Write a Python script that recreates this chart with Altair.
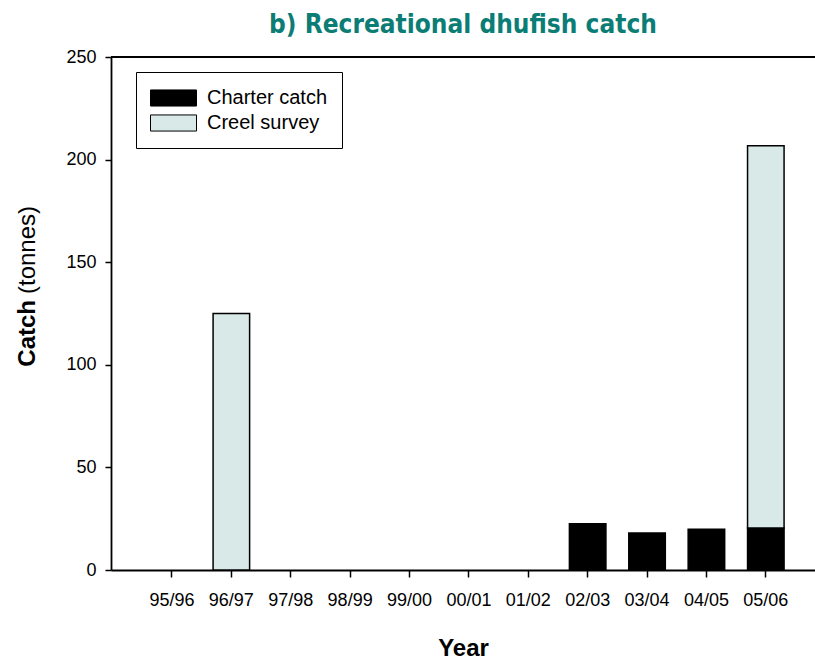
import altair as alt
import pandas as pd

# Financial years shown on the x axis
YEARS = ["95/96", "96/97", "97/98", "98/99", "99/00", "00/01",
         "01/02", "02/03", "03/04", "04/05", "05/06"]
# Catch in tonnes by source (None = no estimate for that year)
CHARTER = [None, None, None, None, None, None, None, 22.5, 18.0, 19.8, 20.5]
CREEL = [None, 125.0, None, None, None, None, None, None, None, None, 186.3]
SERIES = ["Charter catch", "Creel survey"]
COLORS = ["#000000", "#d8e9e8"]
Y_TICKS = [0, 50, 100, 150, 200, 250]

rows = []
for yr, ch, cr in zip(YEARS, CHARTER, CREEL):
    if ch is not None:
        rows.append({"year": yr, "source": SERIES[0], "catch": ch})
    if cr is not None:
        rows.append({"year": yr, "source": SERIES[1], "catch": cr})
df = pd.DataFrame(rows)

FONT = "Liberation Sans"
W, H = 704, 513

bars = alt.Chart(df).mark_bar(stroke="black", strokeWidth=1.5).encode(
    x=alt.X("year:N", sort=YEARS,
            scale=alt.Scale(domain=YEARS, paddingInner=0.385,
                            paddingOuter=0.62, align=0.58),
            axis=alt.Axis(title="Year", labelAngle=0, labelFontSize=18,
                          labelPadding=14, tickSize=7, tickWidth=1.5,
                          domainWidth=1.8, titleFontSize=24,
                          titleFontWeight="bold", titlePadding=27)),
    y=alt.Y("catch:Q", stack="zero",
            scale=alt.Scale(domain=[0, 250], nice=False),
            axis=alt.Axis(title=None, values=Y_TICKS, labelFontSize=18,
                          labelPadding=9, tickSize=6, tickWidth=1.5,
                          domainWidth=1.8, grid=False)),
    color=alt.Color("source:N",
                    scale=alt.Scale(domain=SERIES, range=COLORS),
                    legend=alt.Legend(
                        title=None, orient="none", legendX=25, legendY=15,
                        strokeColor="black", fillColor="white", padding=14,
                        symbolType="M-1,-0.7H3V0.7H-1Z", symbolSize=529,
                        symbolStrokeColor="black", symbolStrokeWidth=1,
                        symbolOpacity=1, labelFontSize=20, labelOffset=33,
                        rowPadding=2,
                        labelExpr="datum.label + '\u00a0'")),
    order=alt.Order("source:N", sort="ascending"),
)

# top frame line of the plot area
frame_top = alt.Chart(alt.Data(values=[{}])).mark_rule(
    color="black", strokeWidth=1.8).encode(y=alt.datum(250))

# y-axis title with a bold first word
ytitle_bold = alt.Chart(alt.Data(values=[{}])).mark_text(
    text="Catch", angle=270, align="right", baseline="middle",
    fontSize=24, fontWeight="bold", font=FONT, color="black"
).encode(x=alt.value(-83), y=alt.value(243))
ytitle_rest = alt.Chart(alt.Data(values=[{}])).mark_text(
    text="(tonnes)", angle=270, align="left", baseline="middle",
    fontSize=24, font=FONT, color="black"
).encode(x=alt.value(-83), y=alt.value(237))

chart = alt.layer(bars, frame_top, ytitle_bold, ytitle_rest).properties(
    width=W, height=H,
    title=alt.TitleParams("b) Recreational dhufish catch", fontSize=26,
                          font="Liberation Sans Narrow, DejaVu Sans Condensed, Arial Narrow, sans-serif",
                          fontWeight="bold", color="#0b7d75",
                          anchor="middle", offset=10),
    padding={"left": 111, "top": 57, "right": 0, "bottom": 91},
    autosize=alt.AutoSizeParams(type="none"),
).configure_view(stroke=None).configure(
    font=FONT
).configure_axis(
    domainColor="black", tickColor="black", labelColor="black",
    titleColor="black", labelFont=FONT, titleFont=FONT
).configure_legend(labelFont=FONT, labelColor="black")

chart.save("out.html", embed_options={"renderer": "svg", "actions": False})
